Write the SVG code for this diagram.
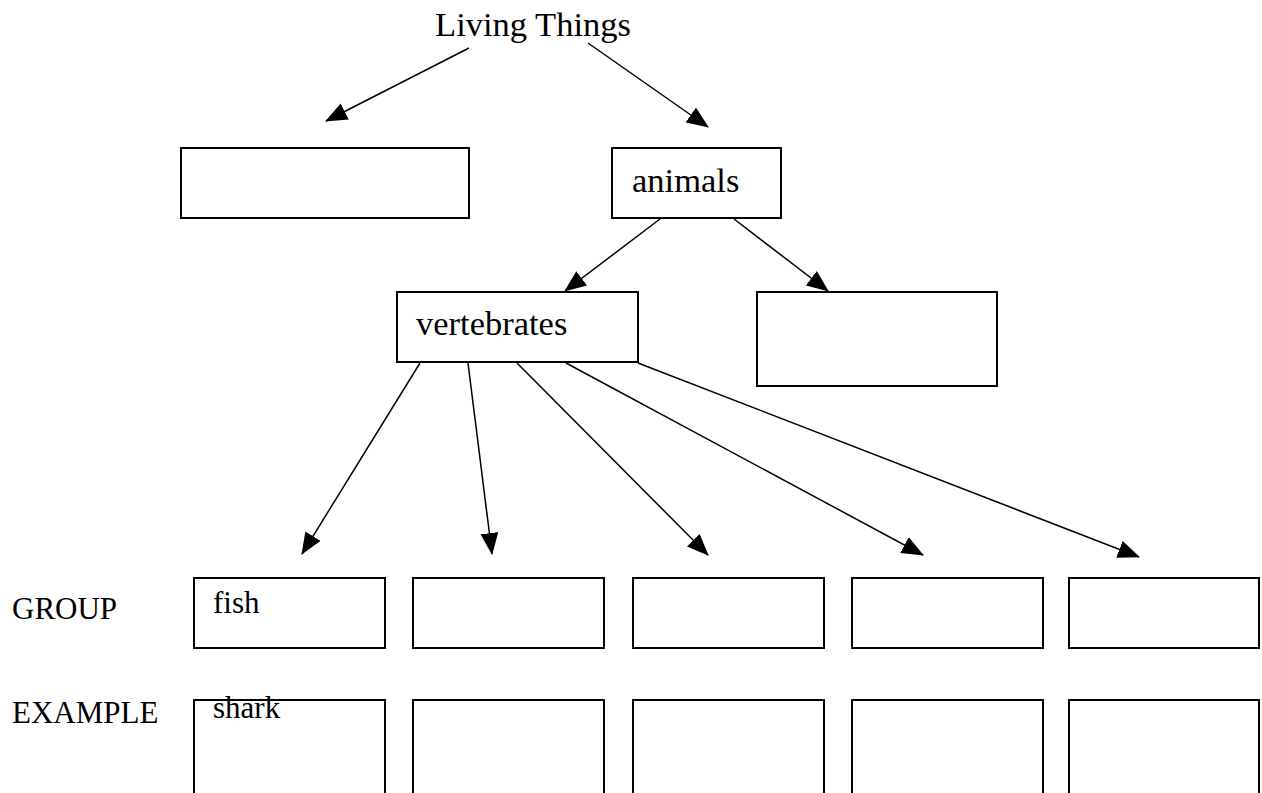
<svg xmlns="http://www.w3.org/2000/svg" width="1262" height="793" viewBox="0 0 1262 793">
<style>
.box{fill:#fff;stroke:#000;stroke-width:2}
.t{font-family:"Liberation Serif","Times New Roman",serif;fill:#000}
.lg{font-size:34.5px}
.md{font-size:31px}
.c{stroke:#000;stroke-width:1.5;fill:none}
</style>
<defs>
<marker id="ah" markerUnits="userSpaceOnUse" markerWidth="22" markerHeight="18" refX="21" refY="9" orient="auto">
<path d="M0,0 L22,9 L0,18 z" fill="#000"/>
</marker>
</defs>
<rect width="1262" height="793" fill="#fff"/>
<g id="living-things"><text class="t lg" x="533" y="36" text-anchor="middle">Living Things</text></g>
<g id="plants-blank"><rect class="box" x="181" y="148" width="288" height="70"/></g>
<g id="animals"><rect class="box" x="612" y="148" width="169" height="70"/><text class="t lg" x="632" y="192">animals</text></g>
<g id="vertebrates"><rect class="box" x="397" y="292" width="241" height="70"/><text class="t lg" x="416" y="335">vertebrates</text></g>
<g id="invertebrates-blank"><rect class="box" x="757" y="292" width="240" height="94"/></g>
<g id="group-label"><text class="t md" x="12" y="619">GROUP</text></g>
<g id="example-label"><text class="t md" x="12" y="723">EXAMPLE</text></g>
<g id="group1"><rect class="box" x="194" y="578" width="191" height="70"/><text class="t md" x="213" y="613">fish</text></g>
<g id="group2"><rect class="box" x="413" y="578" width="191" height="70"/></g>
<g id="group3"><rect class="box" x="633" y="578" width="191" height="70"/></g>
<g id="group4"><rect class="box" x="852" y="578" width="191" height="70"/></g>
<g id="group5"><rect class="box" x="1069" y="578" width="190" height="70"/></g>
<g id="example1"><rect class="box" x="194" y="700" width="191" height="100"/><text class="t md" x="213" y="718">shark</text></g>
<g id="example2"><rect class="box" x="413" y="700" width="191" height="100"/></g>
<g id="example3"><rect class="box" x="633" y="700" width="191" height="100"/></g>
<g id="example4"><rect class="box" x="852" y="700" width="191" height="100"/></g>
<g id="example5"><rect class="box" x="1069" y="700" width="190" height="100"/></g>
<g id="connectors">
<line class="c" x1="469" y1="48" x2="326" y2="121" marker-end="url(#ah)"/>
<line class="c" x1="588" y1="43" x2="708" y2="127" marker-end="url(#ah)"/>
<line class="c" x1="660" y1="219" x2="565" y2="291" marker-end="url(#ah)"/>
<line class="c" x1="734" y1="219" x2="828" y2="291" marker-end="url(#ah)"/>
<line class="c" x1="420" y1="363" x2="302" y2="554" marker-end="url(#ah)"/>
<line class="c" x1="468" y1="363" x2="492" y2="554" marker-end="url(#ah)"/>
<line class="c" x1="517" y1="363" x2="708" y2="555" marker-end="url(#ah)"/>
<line class="c" x1="566" y1="363" x2="923" y2="555" marker-end="url(#ah)"/>
<line class="c" x1="638" y1="363" x2="1139" y2="557" marker-end="url(#ah)"/>
</g>
</svg>
